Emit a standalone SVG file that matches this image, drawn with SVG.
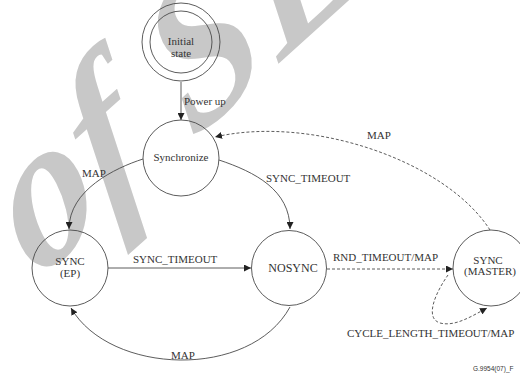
<svg xmlns="http://www.w3.org/2000/svg" width="520" height="373" viewBox="0 0 520 373">
  <style>
    .state { fill: none; stroke: #4a4a4a; stroke-width: 0.9; }
    .lbl { font-family: "Liberation Serif", "Times New Roman", serif; font-size: 11px; fill: #333; }
    .mid { text-anchor: middle; }
    .edge { fill: none; stroke: #4a4a4a; stroke-width: 0.9; }
    .dash { stroke-dasharray: 3 2; }
    .wm { font-family: "Liberation Serif", "Times New Roman", serif; font-style: italic; font-weight: bold; font-size: 195px; fill: #c8c8c8; }
    .ref { font-family: "Liberation Sans", Arial, sans-serif; font-size: 6.5px; fill: #333; }
  </style>
  <defs>
    <marker id="arrow" viewBox="0 0 10 10" refX="10" refY="5" markerWidth="7" markerHeight="7" markerUnits="userSpaceOnUse" orient="auto">
      <path d="M0,0 L10,5 L0,10 Z" fill="#222"/>
    </marker>
  </defs>

  <rect width="520" height="373" fill="#fff"/>

  <!-- background watermark -->
  <g id="watermark">
    <text class="wm" transform="translate(36,282) rotate(-42) skewX(-15)">of S<tspan dx="8">L</tspan></text>
  </g>

  <!-- transitions -->
  <g id="connectors">
    <line class="edge" x1="181" y1="82" x2="181" y2="120" marker-end="url(#arrow)"/>
    <path class="edge" d="M143,159 C115,168 69,190 69,229" marker-end="url(#arrow)"/>
    <path class="edge" d="M219,160 C255,172 290,190 290,229" marker-end="url(#arrow)"/>
    <line class="edge" x1="108" y1="268" x2="251" y2="268" marker-end="url(#arrow)"/>
    <path class="edge" d="M290,307 C250,380 110,375 71,308" marker-end="url(#arrow)"/>
    <line class="edge dash" x1="327" y1="269" x2="453" y2="269" marker-end="url(#arrow)"/>
    <path class="edge dash" d="M490,230 C445,160 310,115 215,137" marker-end="url(#arrow)"/>
    <path class="edge dash" d="M448,275 C436,292 424,318 440,323 C455,327 472,316 487,308" marker-end="url(#arrow)"/>

    <text class="lbl" x="184" y="105">Power up</text>
    <text class="lbl" x="82" y="177">MAP</text>
    <text class="lbl" x="266" y="182">SYNC_TIMEOUT</text>
    <text class="lbl" x="133" y="263">SYNC_TIMEOUT</text>
    <text class="lbl" x="171" y="359">MAP</text>
    <text class="lbl" x="333" y="261">RND_TIMEOUT/MAP</text>
    <text class="lbl" x="367" y="139">MAP</text>
    <text class="lbl" x="347" y="337">CYCLE_LENGTH_TIMEOUT/MAP</text>
  </g>

  <!-- states -->
  <g id="initial">
    <circle class="state" cx="181" cy="42" r="39"/>
    <circle class="state" cx="181" cy="42" r="31"/>
    <text class="lbl mid" x="181" y="45" fill="#555">Initial</text>
    <text class="lbl mid" x="181" y="57">state</text>
  </g>
  <g id="synchronize">
    <circle class="state" cx="181" cy="158" r="38"/>
    <text class="lbl mid" x="181" y="161">Synchronize</text>
  </g>
  <g id="sync-ep">
    <circle class="state" cx="70" cy="268" r="38"/>
    <text class="lbl mid" x="70" y="265">SYNC</text>
    <text class="lbl mid" x="70" y="277">(EP)</text>
  </g>
  <g id="nosync">
    <circle class="state" cx="289" cy="268" r="37.5"/>
    <text class="lbl mid" x="293" y="272" style="font-size:12px">NOSYNC</text>
  </g>
  <g id="sync-master">
    <circle class="state" cx="491" cy="268" r="38"/>
    <text class="lbl mid" x="488" y="264">SYNC</text>
    <text class="lbl mid" x="490" y="275">(MASTER)</text>
  </g>

  <text class="ref" x="473" y="371">G.9954(07)_F</text>
</svg>
